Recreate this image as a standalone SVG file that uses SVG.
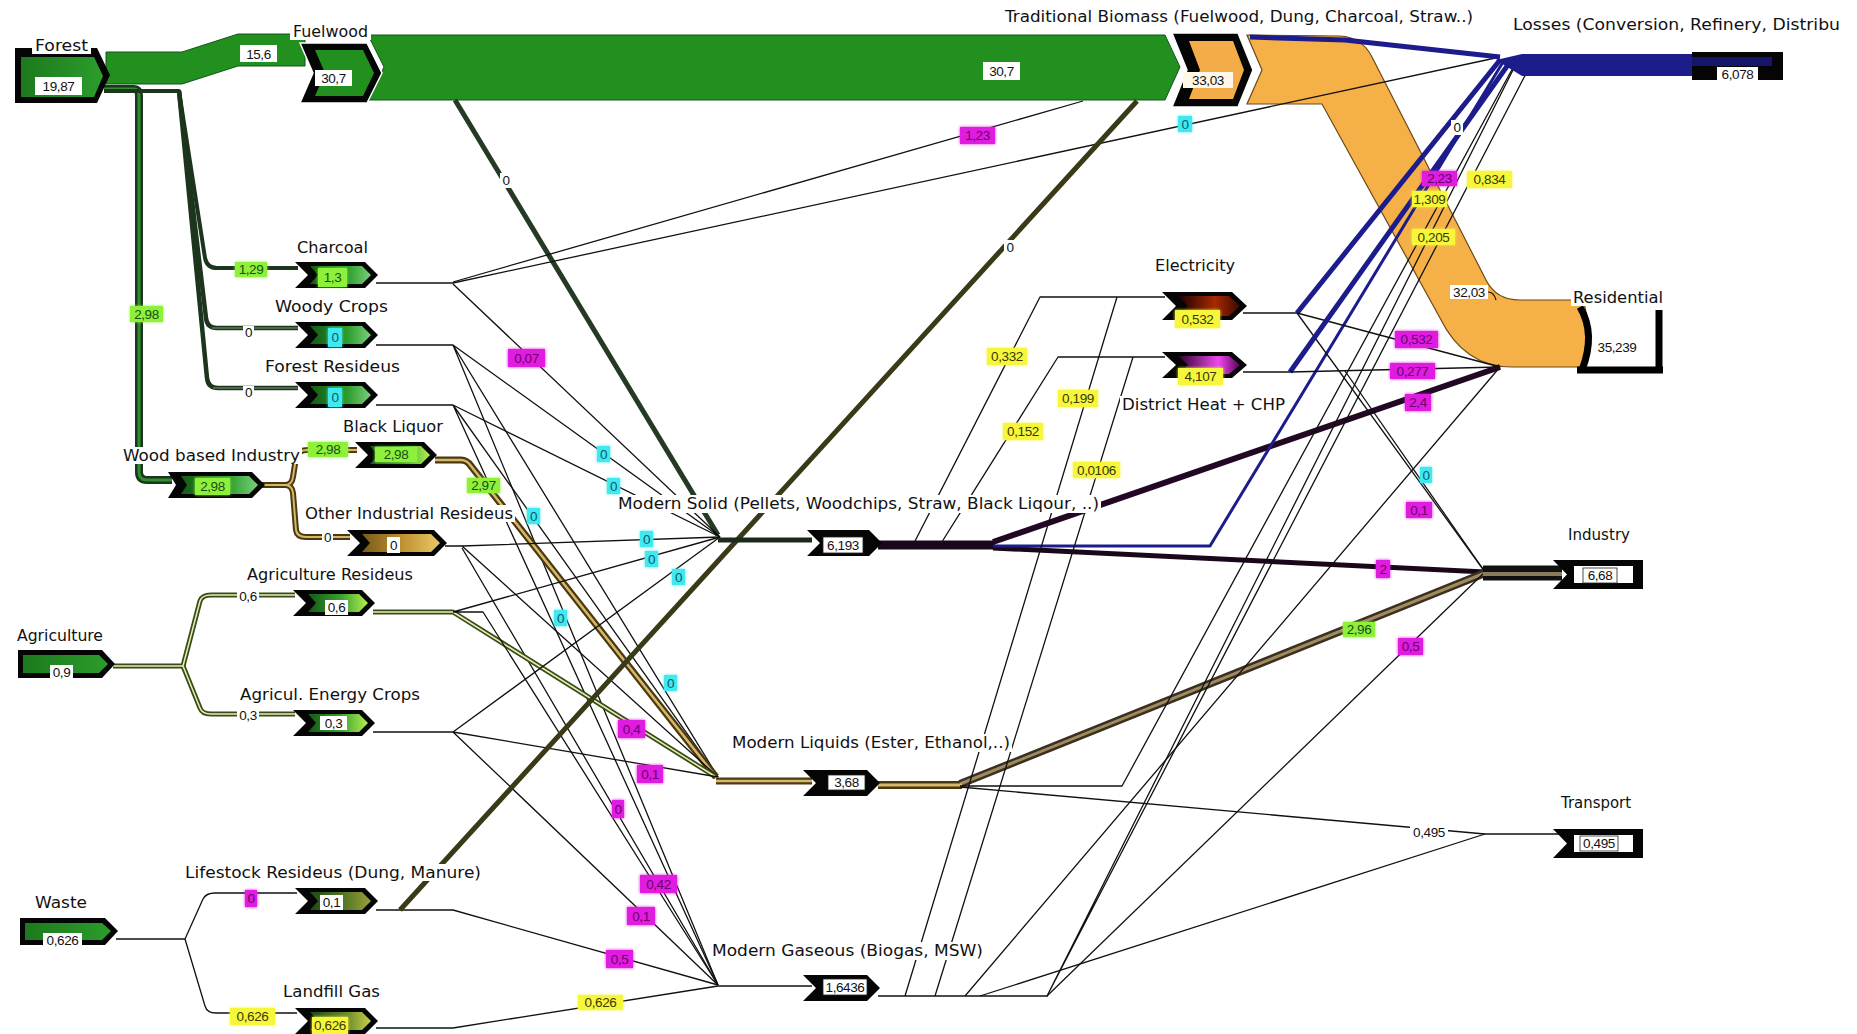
<svg xmlns="http://www.w3.org/2000/svg" width="1857" height="1034" viewBox="0 0 1857 1034">
<defs>
  <linearGradient id="gForest" x1="0" y1="0" x2="1" y2="0"><stop offset="0" stop-color="#1c7a1c"/><stop offset="1" stop-color="#2c9c2c"/></linearGradient>
  <linearGradient id="gGreen" x1="0" y1="0" x2="1" y2="0"><stop offset="0" stop-color="#145a14"/><stop offset="0.6" stop-color="#2a9a2a"/><stop offset="1" stop-color="#7ad07a"/></linearGradient>
  <linearGradient id="gLime" x1="0" y1="0" x2="1" y2="0"><stop offset="0" stop-color="#145a14"/><stop offset="0.55" stop-color="#3aa030"/><stop offset="1" stop-color="#b4f050"/></linearGradient>
  <linearGradient id="gGold" x1="0" y1="0" x2="1" y2="0"><stop offset="0" stop-color="#7a5a18"/><stop offset="0.6" stop-color="#c89a38"/><stop offset="1" stop-color="#e8c868"/></linearGradient>
  <linearGradient id="gOlive" x1="0" y1="0" x2="1" y2="0"><stop offset="0" stop-color="#1c4a14"/><stop offset="0.6" stop-color="#5a7a24"/><stop offset="1" stop-color="#9aa03a"/></linearGradient>
  <linearGradient id="gYel" x1="0" y1="0" x2="1" y2="0"><stop offset="0" stop-color="#1c4a14"/><stop offset="0.6" stop-color="#6a8a2a"/><stop offset="1" stop-color="#c8d048"/></linearGradient>
  <linearGradient id="gRed" x1="0" y1="0" x2="1" y2="0"><stop offset="0" stop-color="#1a0000"/><stop offset="0.6" stop-color="#a82a00"/><stop offset="1" stop-color="#3a0800"/></linearGradient>
  <linearGradient id="gMag" x1="0" y1="0" x2="1" y2="0"><stop offset="0" stop-color="#2a002a"/><stop offset="0.65" stop-color="#f048f0"/><stop offset="1" stop-color="#5a005a"/></linearGradient>
  <filter id="soft" x="-40%" y="-40%" width="180%" height="180%">
    <feGaussianBlur in="SourceGraphic" stdDeviation="1.6" result="b"/>
    <feMerge><feMergeNode in="b"/><feMergeNode in="SourceGraphic"/></feMerge>
  </filter>
</defs>
<style>
  .t{font-family:"DejaVu Sans",Verdana,sans-serif;font-size:15.5px;fill:#111}
  .tbg{fill:#fff}
  .v{font-family:"Liberation Sans",Arial,sans-serif;font-size:13.5px;fill:#111;text-anchor:middle;letter-spacing:-0.4px}
  .bw{fill:#fff}
  .bwk{fill:#fff;stroke:#222;stroke-width:0.8}
  .bg{fill:#8ef03a;filter:url(#soft)}
  .bm{fill:#e01ce0;filter:url(#soft)}
  .bc{fill:#40e8f0;filter:url(#soft)}
  .by{fill:#f6f63c;filter:url(#soft)}
  .vg{fill:#145014}.vm{fill:#6a006a}.vc{fill:#0a5a6a}.vy{fill:#3a3a00}
  .blk{fill:#050505}
  .chev{fill:#050505;stroke:#fff;stroke-width:1.5}
  .ln{fill:none;stroke:#111;stroke-linejoin:round;stroke-width:1.3}
  .nv{fill:none;stroke:#1c1c8c;stroke-linejoin:round}
  .dg{fill:none;stroke:#1c351c;stroke-linejoin:round}
  .gold-o{fill:none;stroke:#4a3a12;stroke-linejoin:round}
  .gold-i{fill:none;stroke:#d8b868;stroke-linejoin:round}
  .olv-o{fill:none;stroke:#3a4a1a;stroke-linejoin:round}
  .olv-i{fill:none;stroke:#e2f2b0;stroke-linejoin:round}
  .bandg{fill:#22901e;stroke:#14541a;stroke-width:1}
</style>
<rect width="1857" height="1034" fill="#fff"/>

<g id="connectors">
  <!-- wide flows -->
  <path class="bandg" d="M106,52 L182,52 L238,34 L305,34 L305,66 L238,66 L182,84 L106,84 Z"/>
  <path class="bandg" d="M368,35 L1165,35 L1180,67 L1165,100 L368,100 L384,67 Z"/>
  <path d="M1247,35 L1340,36 Q1362,37 1372,57 L1486,280 Q1496,300 1520,300 L1583,300 Q1593,333 1583,367 L1512,367 Q1464,367 1440,318 L1322,104 L1247,104 L1262,70 Z" fill="#f6b048" stroke="#6a4a1a" stroke-width="1.2"/>

  <!-- forest branches -->
  <path d="M104,89 H134 Q139,89 139,96 V472 Q139,480 147,480 H172" class="dg" stroke-width="8"/>
  <path d="M104,89 H134 Q139,89 139,96 V472 Q139,480 147,480 H172" fill="none" stroke="#2f8f2f" stroke-width="3"/>
  <path d="M104,91 H179 L205,258 Q207,268 217,268 H298" class="dg" stroke-width="4"/>
  <path d="M179,91 L206,318 Q207,328 217,328 H298" class="dg" stroke-width="4.5"/>
  <path d="M179,91 L207,378 Q208,388 218,388 H298" class="dg" stroke-width="4.5"/>
  <path d="M212,328 H298 M213,388 H298" fill="none" stroke="#7a9a7a" stroke-width="1.2"/>

  <!-- wood based industry branches -->
  <path d="M262,485 H285 Q292,485 293,477 L296,458 Q298,450 307,450 H357" class="gold-o" stroke-width="6"/>
  <path d="M285,485 Q292,485 293,493 L296,530 Q297,537 306,537 H350" class="gold-o" stroke-width="6"/>
  <path d="M262,485 H285 Q292,485 293,477 L296,458 Q298,450 307,450 H357" class="gold-i" stroke-width="2"/>
  <path d="M285,485 Q292,485 293,493 L296,530 Q297,537 306,537 H350" class="gold-i" stroke-width="2"/>

  <!-- agriculture branches -->
  <path d="M113,666 H183 L200,601 Q202,595 211,595 H295" class="olv-o" stroke-width="5"/>
  <path d="M183,666 L200,708 Q202,714 211,714 H295" class="olv-o" stroke-width="5"/>
  <path d="M113,666 H183 L200,601 Q202,595 211,595 H295" class="olv-i" stroke-width="1.5"/>
  <path d="M183,666 L200,708 Q202,714 211,714 H295" class="olv-i" stroke-width="1.5"/>

  <!-- waste branches -->
  <path d="M116,939 H185 L203,899 Q206,893 215,893 H297" class="ln" stroke-width="4"/>
  <path d="M185,939 L205,1006 Q207,1013 216,1013 H297" class="ln" stroke-width="2.5"/>

  <!-- fuelwood to modern solid -->
  <path d="M455,100 L718,535" fill="none" stroke="#243a24" stroke-width="5"/>

  <!-- charcoal -->
  <path d="M376,283 H453" class="ln" stroke-width="4"/>
  <path d="M453,282 L1083,101" class="ln" stroke-width="3"/>
  <path d="M453,283 L1500,57" class="ln" stroke-width="3"/>
  <path d="M453,284 L720,537" class="ln" stroke-width="1.2"/>

  <!-- woody crops / forest residues -->
  <path d="M376,345 H453 L720,537 M453,345 L718,777 M453,345 L718,985" class="ln"/>
  <path d="M376,405 H453 L720,537 M453,405 L718,777 M453,405 L718,985" class="ln"/>

  <!-- black liquor -->
  <path d="M435,460 H461 Q467,460 471,466 L716,777" class="gold-o" stroke-width="7"/>
  <path d="M435,460 H461 Q467,460 471,466 L716,777" class="gold-i" stroke-width="2.5"/>

  <!-- other industrial residues -->
  <path d="M445,546 H462 L720,537 M462,546 L718,777 M462,548 L718,985" class="ln"/>

  <!-- agriculture residues -->
  <path d="M373,612 H453 L716,777" class="olv-o" stroke-width="5"/>
  <path d="M373,612 H453 L716,777" class="olv-i" stroke-width="1.5"/>
  <path d="M453,612 L720,537 M453,612 H483 L718,985" class="ln"/>

  <!-- agricultural energy crops -->
  <path d="M373,732 H453 L720,537 M453,732 L718,777 M453,732 L718,985" class="ln" stroke-width="1.4"/>

  <!-- livestock residues -->
  <path d="M376,910 H453 L718,985" class="ln" stroke-width="1.5"/>
  <path d="M400,910 L1137,101" fill="none" stroke="#3a3a18" stroke-width="5"/>

  <!-- landfill gas -->
  <path d="M376,1028 H453 L718,986" class="ln" stroke-width="1.8"/>

  <!-- into modern carriers -->
  <path d="M718,540 H812" fill="none" stroke="#1c2a1c" stroke-width="5"/>
  <path d="M716,781 H812" class="gold-o" stroke-width="7"/>
  <path d="M716,781 H812" class="gold-i" stroke-width="2.5"/>
  <path d="M718,986 H812" class="ln" stroke-width="3"/>

  <!-- modern solid out -->
  <path d="M878,545 H995" fill="none" stroke="#1a081a" stroke-width="9"/>
  <path d="M913,545 L1040,297 H1165" class="ln" stroke-width="1.5"/>
  <path d="M940,545 L1058,357 H1165" class="ln" stroke-width="1.5"/>
  <path d="M993,542 L1500,367" fill="none" stroke="#220822" stroke-width="6"/>
  <path d="M993,548 L1485,572" fill="none" stroke="#1a081a" stroke-width="5"/>
  <path d="M993,546 H1210 L1503,62" class="nv" stroke-width="3"/>

  <!-- modern liquids out -->
  <path d="M878,785 H962" class="gold-o" stroke-width="8"/>
  <path d="M960,784 L1485,573" fill="none" stroke="#3a3020" stroke-width="8"/>
  <path d="M960,784 L1485,573" fill="none" stroke="#a08a60" stroke-width="3"/>
  <path d="M878,785 H962" class="gold-i" stroke-width="3"/>
  <path d="M960,787 L1485,834 H1560" class="ln" stroke-width="1.8"/>
  <path d="M960,786 H1122 L1515,64" class="ln" stroke-width="1.5"/>

  <!-- modern gaseous out -->
  <path d="M878,996 H1048" class="ln" stroke-width="4"/>
  <path d="M905,996 L1117,297 M935,996 L1133,357 M965,996 L1500,367 M980,996 L1485,834" class="ln"/>
  <path d="M1047,996 L1515,66 M1047,996 L1530,66" class="ln" stroke-width="2"/>
  <path d="M1047,996 L1485,572" class="ln" stroke-width="1.8"/>

  <!-- electricity out -->
  <path d="M1243,313 H1297" class="ln" stroke-width="4"/>
  <path d="M1297,313 L1500,60" class="nv" stroke-width="5"/>
  <path d="M1297,313 L1500,367" class="ln" stroke-width="1.5"/>
  <path d="M1297,313 L1485,572" class="ln" stroke-width="2.5"/>

  <!-- district heat out -->
  <path d="M1243,372 H1290" class="ln" stroke-width="5"/>
  <path d="M1290,372 L1510,62" class="nv" stroke-width="5"/>
  <path d="M1290,372 L1500,367" class="ln" stroke-width="2"/>
  <path d="M1345,371 L1485,572" class="ln" stroke-width="1.2"/>

  <!-- traditional biomass to losses -->
  <path d="M1250,37 L1345,40 L1500,57" class="nv" stroke-width="5"/>

  <!-- into end uses -->
  <path d="M1483,573 H1562" fill="none" stroke="#111" stroke-width="15"/>
  <path d="M1483,574 H1562" fill="none" stroke="#8a7a5a" stroke-width="4"/>
  <path d="M1496,60 L1522,54 L1700,54 V76 L1522,76 Z" fill="#1c1c8a"/>
</g>

<g id="edge-labels">
  <rect class="bw" x="240" y="45" width="37" height="17"/><text class="v" x="258.5" y="58.5">15,6</text>
  <rect class="bw" x="983" y="62" width="37" height="18"/><text class="v" x="1001.5" y="75.5">30,7</text>
  <rect class="bg" x="235" y="262" width="32" height="15"/><text class="v vg" x="251" y="274">1,29</text>
  <rect class="bw" x="243" y="326" width="11" height="13"/><text class="v" x="248.5" y="337">0</text>
  <rect class="bw" x="243" y="386" width="11" height="13"/><text class="v" x="248.5" y="397">0</text>
  <rect class="bg" x="130" y="306" width="33" height="16"/><text class="v vg" x="146.5" y="318.5">2,98</text>
  <rect class="bg" x="308" y="442" width="40" height="15"/><text class="v vg" x="328" y="454">2,98</text>
  <rect class="bw" x="322" y="531" width="11" height="13"/><text class="v" x="327.5" y="542">0</text>
  <rect class="bw" x="237" y="589" width="22" height="15"/><text class="v" x="248" y="601">0,6</text>
  <rect class="bw" x="237" y="708" width="22" height="15"/><text class="v" x="248" y="720">0,3</text>
  <rect class="bm" x="245" y="890" width="12" height="17"/><text class="v vm" x="251" y="903">0</text>
  <rect class="by" x="230" y="1008" width="45" height="17"/><text class="v vy" x="252.5" y="1021">0,626</text>
  <rect class="bw" x="500" y="173" width="12" height="15"/><text class="v" x="506" y="185">0</text>
  <rect class="bm" x="960" y="127" width="35" height="17"/><text class="v vm" x="977.5" y="140">1,23</text>
  <rect class="bc" x="1178" y="116" width="14" height="16"/><text class="v vc" x="1185" y="128.5">0</text>
  <rect class="bw" x="1004" y="240" width="12" height="15"/><text class="v" x="1010" y="252">0</text>
  <rect class="bm" x="508" y="349" width="37" height="18"/><text class="v vm" x="526.5" y="362.5">0,07</text>
  <rect class="bc" x="597" y="446" width="13" height="16"/><text class="v vc" x="603.5" y="458.5">0</text>
  <rect class="bc" x="607" y="478" width="13" height="16"/><text class="v vc" x="613.5" y="490.5">0</text>
  <rect class="bc" x="527" y="508" width="13" height="16"/><text class="v vc" x="533.5" y="520.5">0</text>
  <rect class="bg" x="467" y="478" width="33" height="15"/><text class="v vg" x="483.5" y="490">2,97</text>
  <rect class="bc" x="640" y="531" width="13" height="16"/><text class="v vc" x="646.5" y="543.5">0</text>
  <rect class="bc" x="645" y="551" width="13" height="16"/><text class="v vc" x="651.5" y="563.5">0</text>
  <rect class="bc" x="672" y="569" width="13" height="16"/><text class="v vc" x="678.5" y="581.5">0</text>
  <rect class="bc" x="554" y="610" width="13" height="16"/><text class="v vc" x="560.5" y="622.5">0</text>
  <rect class="bc" x="664" y="675" width="13" height="16"/><text class="v vc" x="670.5" y="687.5">0</text>
  <rect class="bm" x="618" y="720" width="27" height="18"/><text class="v vm" x="631.5" y="733.5">0,4</text>
  <rect class="bm" x="637" y="765" width="26" height="18"/><text class="v vm" x="650" y="778.5">0,1</text>
  <rect class="bm" x="612" y="800" width="12" height="18"/><text class="v vm" x="618" y="813.5">0</text>
  <rect class="bm" x="640" y="875" width="37" height="18"/><text class="v vm" x="658.5" y="888.5">0,42</text>
  <rect class="bm" x="627" y="907" width="28" height="18"/><text class="v vm" x="641" y="920.5">0,1</text>
  <rect class="bm" x="606" y="950" width="27" height="18"/><text class="v vm" x="619.5" y="963.5">0,5</text>
  <rect class="by" x="578" y="995" width="45" height="15"/><text class="v vy" x="600.5" y="1007">0,626</text>
  <rect class="by" x="987" y="348" width="40" height="17"/><text class="v vy" x="1007" y="361">0,332</text>
  <rect class="by" x="1003" y="423" width="40" height="17"/><text class="v vy" x="1023" y="436">0,152</text>
  <rect class="by" x="1058" y="390" width="40" height="17"/><text class="v vy" x="1078" y="403">0,199</text>
  <rect class="by" x="1073" y="462" width="47" height="16"/><text class="v vy" x="1096.5" y="474.5">0,0106</text>
  <rect class="bw" x="1451" y="120" width="12" height="15"/><text class="v" x="1457" y="132">0</text>
  <rect class="bm" x="1422" y="171" width="35" height="15"/><text class="v vm" x="1439.5" y="183">2,23</text>
  <rect class="by" x="1467" y="171" width="45" height="17"/><text class="v vy" x="1489.5" y="184">0,834</text>
  <rect class="by" x="1412" y="191" width="35" height="16"/><text class="v vy" x="1429.5" y="203.5">1,309</text>
  <rect class="by" x="1412" y="229" width="43" height="16"/><text class="v vy" x="1433.5" y="241.5">0,205</text>
  <rect class="bw" x="1450" y="285" width="38" height="14"/><text class="v" x="1469" y="296.5">32,03</text>
  <path d="M1488,292 Q1494,292 1496,300" fill="none" stroke="#111" stroke-width="1.2"/>
  <rect class="bm" x="1395" y="331" width="43" height="17"/><text class="v vm" x="1416.5" y="344">0,532</text>
  <rect class="bm" x="1390" y="363" width="45" height="16"/><text class="v vm" x="1412.5" y="375.5">0,277</text>
  <rect class="bm" x="1405" y="394" width="26" height="17"/><text class="v vm" x="1418" y="407">2,4</text>
  <rect class="bc" x="1420" y="467" width="12" height="16"/><text class="v vc" x="1426" y="479.5">0</text>
  <rect class="bm" x="1406" y="502" width="26" height="16"/><text class="v vm" x="1419" y="514.5">0,1</text>
  <rect class="bm" x="1376" y="560" width="14" height="18"/><text class="v vm" x="1383" y="573.5">2</text>
  <rect class="bg" x="1343" y="622" width="32" height="15"/><text class="v vg" x="1359" y="634">2,96</text>
  <rect class="bm" x="1398" y="638" width="25" height="17"/><text class="v vm" x="1410.5" y="651">0,5</text>
  <rect class="bw" x="1410" y="825" width="38" height="15"/><text class="v" x="1429" y="837">0,495</text>
</g>

<g id="n-forest">
  <path class="blk" d="M15,48 H97 L110,75 L97,103 H15 Z"/>
  <path fill="url(#gForest)" d="M21,57 H94 L103,76 L94,97 H21 Z"/>
  <rect class="tbg" x="32" y="37" width="59" height="17"/><text class="t" x="35" y="51" textLength="53" lengthAdjust="spacingAndGlyphs">Forest</text>
  <rect class="bw" x="35" y="77" width="47" height="18"/><text class="v" x="58.5" y="90.5">19,87</text>
</g>
<g id="n-fuelwood">
  <path class="chev" d="M300,43 H367 L382,73 L367,103 H300 L313,73 Z"/>
  <path fill="#22901e" d="M315,50 H363 L374,73 L363,96 H315 L325,73 Z"/>
  <rect class="tbg" x="290" y="23" width="81" height="17"/><text class="t" x="293" y="37" textLength="75" lengthAdjust="spacingAndGlyphs">Fuelwood</text>
  <rect class="bw" x="315" y="70" width="37" height="16"/><text class="v" x="333.5" y="82.5">30,7</text>
</g>
<g id="n-tradbio">
  <path class="chev" d="M1172,33 H1238 L1253,70 L1238,107 H1172 L1187,70 Z"/>
  <path fill="#f4ac48" d="M1189,41 H1233 L1244,70 L1233,99 H1189 L1200,70 Z"/>
  <rect class="tbg" x="1002" y="8" width="474" height="18"/><text class="t" x="1005" y="22" textLength="468" lengthAdjust="spacingAndGlyphs">Traditional Biomass (Fuelwood, Dung, Charcoal, Straw..)</text>
  <rect fill="#fff8e8" x="1183" y="72" width="50" height="16"/><text class="v" x="1208" y="84.5">33,03</text>
</g>
<g id="n-charcoal">
  <path class="blk" d="M295,262 H365 L378,275 L365,288 H295 L308,275 Z"/>
  <path fill="url(#gGreen)" d="M310,266 H362 L371,275 L362,284 H310 L318,275 Z"/>
  <rect class="tbg" x="295" y="240" width="75" height="16"/><text class="t" x="297" y="253" textLength="71" lengthAdjust="spacingAndGlyphs">Charcoal</text>
  <rect class="bg" x="318" y="268" width="29" height="19"/><text class="v vg" x="332.5" y="282">1,3</text>
</g>
<g id="n-woody">
  <path class="blk" d="M295,322 H365 L378,335 L365,348 H295 L308,335 Z"/>
  <path fill="url(#gGreen)" d="M310,326 H362 L371,335 L362,344 H310 L318,335 Z"/>
  <rect class="tbg" x="273" y="298" width="117" height="17"/><text class="t" x="275" y="312" textLength="113" lengthAdjust="spacingAndGlyphs">Woody Crops</text>
  <rect class="bc" x="328" y="328" width="14" height="19"/><text class="v vc" x="335" y="342">0</text>
</g>
<g id="n-forestres">
  <path class="blk" d="M295,382 H365 L378,395 L365,408 H295 L308,395 Z"/>
  <path fill="url(#gGreen)" d="M310,386 H362 L371,395 L362,404 H310 L318,395 Z"/>
  <rect class="tbg" x="263" y="358" width="139" height="17"/><text class="t" x="265" y="372" textLength="135" lengthAdjust="spacingAndGlyphs">Forest Resideus</text>
  <rect class="bc" x="328" y="388" width="14" height="19"/><text class="v vc" x="335" y="402">0</text>
</g>
<g id="n-woodind">
  <path class="blk" d="M168,472 H252 L265,485 L252,498 H168 L176,485 Z"/>
  <path fill="url(#gGreen)" d="M181,476 H249 L258,485 L249,494 H181 L187,485 Z"/>
  <rect class="tbg" x="121" y="447" width="181" height="17"/><text class="t" x="123" y="461" textLength="177" lengthAdjust="spacingAndGlyphs">Wood based Industry</text>
  <rect class="bg" x="195" y="478" width="35" height="17"/><text class="v vg" x="212.5" y="491">2,98</text>
</g>
<g id="n-blackliquor">
  <path class="blk" d="M355,442 H424 L437,455 L424,468 H355 L368,455 Z"/>
  <path fill="url(#gLime)" d="M370,446 H421 L430,455 L421,464 H370 L378,455 Z"/>
  <rect class="tbg" x="341" y="418" width="104" height="17"/><text class="t" x="343" y="432" textLength="100" lengthAdjust="spacingAndGlyphs">Black Liquor</text>
  <rect class="bg" x="375" y="447" width="42" height="15"/><text class="v vg" x="396" y="459">2,98</text>
</g>
<g id="n-otherind">
  <path class="blk" d="M347,530 H434 L447,543 L434,556 H347 L360,543 Z"/>
  <path fill="url(#gGold)" d="M362,534 H431 L440,543 L431,552 H362 L370,543 Z"/>
  <rect class="tbg" x="303" y="505" width="212" height="17"/><text class="t" x="305" y="519" textLength="208" lengthAdjust="spacingAndGlyphs">Other Industrial Resideus</text>
  <rect class="bw" x="387" y="537" width="13" height="16"/><text class="v" x="393.5" y="549.5">0</text>
</g>
<g id="n-agriculture">
  <path class="blk" d="M18,650 H102 L115,664 L102,678 H18 Z"/>
  <path fill="url(#gForest)" d="M23,655 H99 L108,664 L99,673 H23 Z"/>
  <rect class="tbg" x="15" y="627" width="90" height="17"/><text class="t" x="17" y="641" textLength="86" lengthAdjust="spacingAndGlyphs">Agriculture</text>
  <rect class="bw" x="50" y="665" width="23" height="15"/><text class="v" x="61.5" y="677">0,9</text>
</g>
<g id="n-agrires">
  <path class="blk" d="M293,590 H362 L375,603 L362,616 H293 L306,603 Z"/>
  <path fill="url(#gLime)" d="M308,594 H359 L368,603 L359,612 H308 L316,603 Z"/>
  <rect class="tbg" x="245" y="566" width="170" height="17"/><text class="t" x="247" y="580" textLength="166" lengthAdjust="spacingAndGlyphs">Agriculture Resideus</text>
  <rect class="bw" x="325" y="600" width="23" height="15"/><text class="v" x="336.5" y="612">0,6</text>
</g>
<g id="n-agricrops">
  <path class="blk" d="M293,710 H362 L375,723 L362,736 H293 L306,723 Z"/>
  <path fill="url(#gLime)" d="M308,714 H359 L368,723 L359,732 H308 L316,723 Z"/>
  <rect class="tbg" x="238" y="686" width="184" height="17"/><text class="t" x="240" y="700" textLength="180" lengthAdjust="spacingAndGlyphs">Agricul. Energy Crops</text>
  <rect class="bw" x="320" y="716" width="27" height="14"/><text class="v" x="333.5" y="727.5">0,3</text>
</g>
<g id="n-waste">
  <path class="blk" d="M20,918 H105 L118,931 L105,945 H20 Z"/>
  <path fill="url(#gForest)" d="M25,923 H102 L111,931 L102,940 H25 Z"/>
  <rect class="tbg" x="33" y="894" width="56" height="17"/><text class="t" x="35" y="908" textLength="52" lengthAdjust="spacingAndGlyphs">Waste</text>
  <rect class="bw" x="43" y="933" width="39" height="14"/><text class="v" x="62.5" y="944.5">0,626</text>
</g>
<g id="n-livestock">
  <path class="blk" d="M295,888 H365 L378,901 L365,914 H295 L308,901 Z"/>
  <path fill="url(#gOlive)" d="M310,892 H362 L371,901 L362,910 H310 L318,901 Z"/>
  <rect class="tbg" x="183" y="864" width="300" height="17"/><text class="t" x="185" y="878" textLength="296" lengthAdjust="spacingAndGlyphs">Lifestock Resideus (Dung, Manure)</text>
  <rect class="bw" x="320" y="895" width="23" height="15"/><text class="v" x="331.5" y="907">0,1</text>
</g>
<g id="n-landfill">
  <path class="blk" d="M295,1008 H365 L378,1021 L365,1034 H295 L308,1021 Z"/>
  <path fill="url(#gYel)" d="M310,1012 H362 L371,1021 L362,1030 H310 L318,1021 Z"/>
  <rect class="tbg" x="281" y="983" width="101" height="17"/><text class="t" x="283" y="997" textLength="97" lengthAdjust="spacingAndGlyphs">Landfill Gas</text>
  <rect class="by" x="312" y="1017" width="36" height="17"/><text class="v vy" x="330" y="1030">0,626</text>
</g>
<g id="n-modsolid">
  <path class="blk" d="M807,530 H869 L882,543 L869,556 H807 L820,543 Z"/>
  <rect class="tbg" x="616" y="495" width="485" height="18"/><text class="t" x="618" y="509" textLength="481" lengthAdjust="spacingAndGlyphs">Modern Solid (Pellets, Woodchips, Straw, Black Liqour, ..)</text>
  <rect class="bwk" x="823" y="537" width="40" height="16"/><text class="v" x="843" y="549.5">6,193</text>
</g>
<g id="n-modliquid">
  <path class="blk" d="M803,770 H867 L880,783 L867,796 H803 L816,783 Z"/>
  <rect class="tbg" x="730" y="734" width="282" height="18"/><text class="t" x="732" y="748" textLength="278" lengthAdjust="spacingAndGlyphs">Modern Liquids (Ester, Ethanol,..)</text>
  <rect class="bwk" x="828" y="775" width="37" height="15"/><text class="v" x="846.5" y="787">3,68</text>
</g>
<g id="n-modgas">
  <path class="blk" d="M803,975 H867 L880,988 L867,1001 H803 L816,988 Z"/>
  <rect class="tbg" x="710" y="942" width="275" height="18"/><text class="t" x="712" y="956" textLength="271" lengthAdjust="spacingAndGlyphs">Modern Gaseous (Biogas, MSW)</text>
  <rect class="bwk" x="823" y="979" width="44" height="16"/><text class="v" x="845" y="991.5">1,6436</text>
</g>
<g id="n-electricity">
  <path class="blk" d="M1162,292 H1232 L1247,306 L1232,320 H1162 L1176,306 Z"/>
  <path fill="url(#gRed)" d="M1178,296 H1229 L1240,306 L1229,316 H1178 L1188,306 Z"/>
  <rect class="tbg" x="1153" y="257" width="84" height="17"/><text class="t" x="1155" y="271" textLength="80" lengthAdjust="spacingAndGlyphs">Electricity</text>
  <rect class="by" x="1175" y="310" width="45" height="18"/><text class="v vy" x="1197.5" y="323.5">0,532</text>
</g>
<g id="n-districtheat">
  <path class="blk" d="M1162,352 H1232 L1247,365 L1232,378 H1162 L1176,365 Z"/>
  <path fill="url(#gMag)" d="M1178,356 H1229 L1240,365 L1229,374 H1178 L1188,365 Z"/>
  <rect class="tbg" x="1120" y="396" width="167" height="17"/><text class="t" x="1122" y="410" textLength="163" lengthAdjust="spacingAndGlyphs">District Heat + CHP</text>
  <rect class="by" x="1178" y="368" width="45" height="17"/><text class="v vy" x="1200.5" y="381">4,107</text>
</g>
<g id="n-losses">
  <rect class="blk" x="1692" y="52" width="91" height="28"/>
  <rect fill="#15156a" x="1692" y="57" width="80" height="9"/>
  <rect class="tbg" x="1510" y="16" width="333" height="18"/><text class="t" x="1513" y="30" textLength="327" lengthAdjust="spacingAndGlyphs">Losses (Conversion, Refinery, Distribu</text>
  <rect class="bw" x="1717" y="67" width="41" height="15"/><text class="v" x="1737.5" y="79">6,078</text>
</g>
<g id="n-residential">
  <path d="M1580,307 Q1596,334 1582,370" fill="none" stroke="#000" stroke-width="7"/>
  <path d="M1577,370 H1663 M1659,310 V373" fill="none" stroke="#000" stroke-width="7"/>
  <rect class="tbg" x="1571" y="289" width="94" height="17"/><text class="t" x="1573" y="303" textLength="90" lengthAdjust="spacingAndGlyphs">Residential</text>
  <text class="v" x="1617" y="352">35,239</text>
</g>
<g id="n-industry">
  <path class="blk" d="M1553,560 H1643 V589 H1553 L1567,574.5 Z"/>
  <rect class="bw" x="1574" y="566" width="59" height="17"/>
  <rect class="tbg" x="1566" y="526" width="66" height="17"/><text class="t" x="1568" y="540" textLength="62" lengthAdjust="spacingAndGlyphs">Industry</text>
  <rect class="bwk" x="1583" y="568" width="34" height="15"/><text class="v" x="1600" y="580">6,68</text>
</g>
<g id="n-transport">
  <path class="blk" d="M1553,829 H1643 V858 H1553 L1567,843.5 Z"/>
  <rect class="bw" x="1574" y="835" width="59" height="17"/>
  <rect class="tbg" x="1559" y="794" width="74" height="17"/><text class="t" x="1561" y="808" textLength="70" lengthAdjust="spacingAndGlyphs">Transport</text>
  <rect class="bwk" x="1580" y="836" width="38" height="15"/><text class="v" x="1599" y="848">0,495</text>
</g>
</svg>
